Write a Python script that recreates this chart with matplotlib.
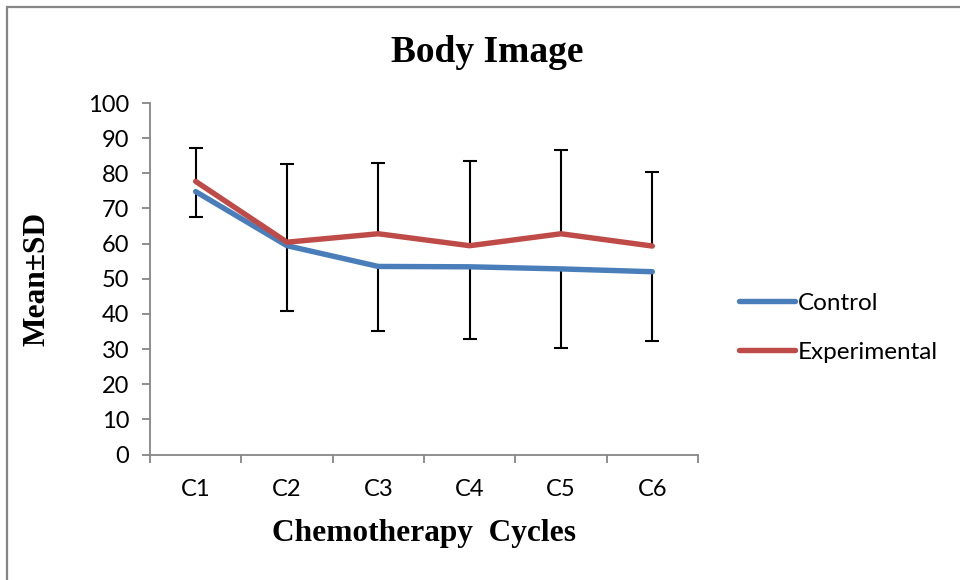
"""Body Image: Mean±SD across chemotherapy cycles, control vs experimental."""

import numpy as np
import matplotlib
matplotlib.use("Agg")
import matplotlib.pyplot as plt
from matplotlib.patches import Rectangle

# -----------------------------------------------------------------------
# Data
# -----------------------------------------------------------------------
cycles = ["C1", "C2", "C3", "C4", "C5", "C6"]
control = [74.8, 59.4, 53.5, 53.4, 52.8, 52.0]
experimental = [77.7, 60.4, 62.8, 59.4, 62.8, 59.3]
# the chart shows the upper bar of the experimental series and the
# lower bar of the control series
exp_sd_plus = [9.6, 22.2, 20.1, 24.1, 23.7, 21.0]
ctrl_sd_minus = [7.1, 18.5, 18.4, 20.6, 22.6, 19.6]
yticks = list(range(0, 101, 10))

BLUE = "#4A7EBB"
RED = "#BE4B48"
GRAY = "#868686"
SERIF = ["Liberation Serif", "DejaVu Serif"]
SANS = ["Lato", "DejaVu Sans"]

fig = plt.figure(figsize=(9.6, 5.8), dpi=100)
ax = fig.add_axes([150 / 960, 1 - 454.5 / 580, 548 / 960, 351.5 / 580])

x = np.arange(1, len(cycles) + 1)
zeros = np.zeros(len(cycles))

# one-sided error bars: hide the caps on the zero-length side
_, caps_exp, _ = ax.errorbar(x, experimental, yerr=[zeros, exp_sd_plus],
                             fmt="none", ecolor="black", elinewidth=1.5,
                             capsize=5, capthick=1.5, zorder=2)
_, caps_ctrl, _ = ax.errorbar(x, control, yerr=[ctrl_sd_minus, zeros],
                              fmt="none", ecolor="black", elinewidth=1.5,
                              capsize=5, capthick=1.5, zorder=2)
caps_exp[0].set_visible(False)
caps_ctrl[1].set_visible(False)

ax.plot(x, control, color=BLUE, lw=3.9, solid_capstyle="round",
        solid_joinstyle="round", label="Control", zorder=3)
ax.plot(x, experimental, color=RED, lw=3.9, solid_capstyle="round",
        solid_joinstyle="round", label="Experimental", zorder=3)

ax.set_xlim(0.5, len(cycles) + 0.5)
ax.set_ylim(0, 100)
ax.set_yticks(yticks)
ax.set_xticks(x)
ax.set_xticklabels(cycles)
ax.set_xticks(np.arange(0.5, len(cycles) + 1), minor=True)

for side in ("top", "right"):
    ax.spines[side].set_visible(False)
for side in ("left", "bottom"):
    ax.spines[side].set_color(GRAY)
    ax.spines[side].set_linewidth(1.3)

ax.tick_params(axis="y", which="major", length=6, width=1.3, color=GRAY,
               pad=9, labelsize=17)
ax.tick_params(axis="x", which="major", length=0, pad=18, labelsize=17)
ax.tick_params(axis="x", which="minor", length=6, width=1.3, color=GRAY)
for lbl in ax.get_xticklabels() + ax.get_yticklabels():
    lbl.set_fontfamily(SANS)

fig.text(487 / 960, 1 - 52 / 580, "Body Image", fontfamily=SERIF,
         fontweight="bold", fontsize=27, ha="center", va="center")
ax.set_xlabel("Chemotherapy  Cycles", fontfamily=SERIF, fontweight="bold",
              fontsize=22.6, labelpad=13)
ax.set_ylabel("Mean±SD", fontfamily=SERIF, fontweight="bold",
              fontsize=22.6, labelpad=26)

leg = ax.legend(loc="center left", bbox_to_anchor=(1.035, 0.36),
                frameon=False, prop={"family": SANS, "size": 17.5},
                handlelength=2.3, handletextpad=0.1, labelspacing=1.15)

# outer chart border
fig.patches.append(Rectangle((6.5 / 960, -0.1), 1.2, 1.1 - 6.5 / 580,
                             transform=fig.transFigure, fill=False,
                             edgecolor=GRAY, lw=1.6))

fig.savefig("out.png", dpi=100)
